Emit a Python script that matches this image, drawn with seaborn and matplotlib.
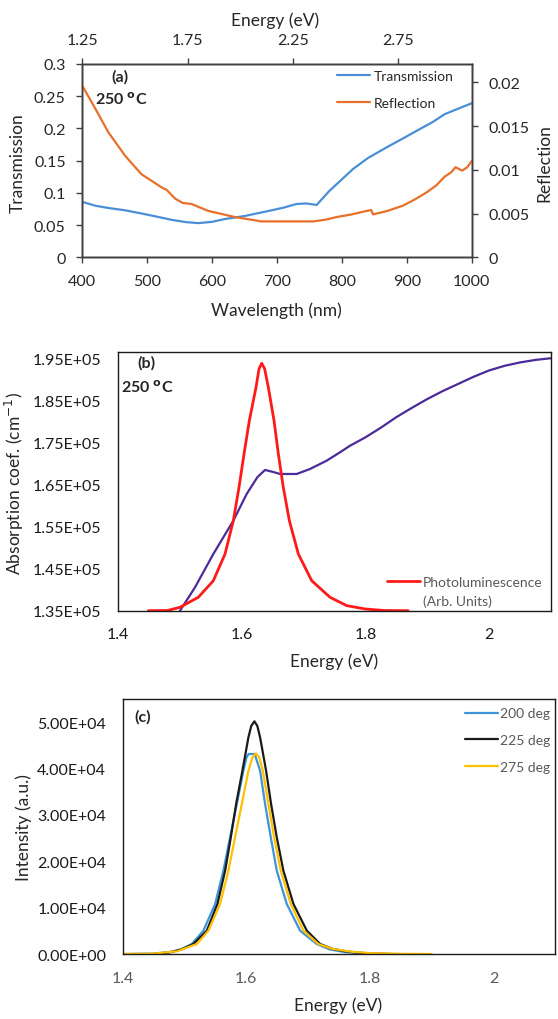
import matplotlib
matplotlib.use("Agg")
import matplotlib.pyplot as plt
import seaborn as sns
import pandas as pd
from matplotlib.ticker import FuncFormatter

# ---------------- Panel (a) data ----------------
wl_T = [400, 420, 440, 465, 491, 515, 538, 560, 579, 600, 620, 650, 689, 710,
        730, 745, 761, 781, 800, 817, 840, 869, 895, 920, 940, 958, 980, 1000]
trans = [0.086, 0.080, 0.0765, 0.073, 0.068, 0.063, 0.058, 0.0545, 0.053, 0.055,
         0.0594, 0.064, 0.0723, 0.077, 0.0827, 0.0835, 0.0812, 0.1034, 0.121,
         0.137, 0.154, 0.1707, 0.185, 0.199, 0.210, 0.222, 0.231, 0.239]
wl_R = [400, 410, 420, 440, 466, 491, 522, 530, 543, 555, 568, 594, 635, 676,
        700, 730, 756, 775, 792, 815, 838, 845, 848, 870, 894, 912, 930, 945,
        958, 968, 975, 985, 993, 1000]
refl = [0.0196, 0.0183, 0.0170, 0.0143, 0.0116, 0.0095, 0.0080, 0.0077, 0.0067,
        0.0062, 0.0061, 0.0053, 0.0046, 0.0041, 0.0041, 0.0041, 0.0041, 0.0043,
        0.0046, 0.0049, 0.0053, 0.0054, 0.0049, 0.0053, 0.0059, 0.0066, 0.0074,
        0.0082, 0.0092, 0.0097, 0.0103, 0.0099, 0.0103, 0.0110]
energy_top_ticks = [1.25, 1.75, 2.25, 2.75]

# ---------------- Panel (b) data ----------------
E_abs = [1.5002, 1.5245, 1.5541, 1.5864, 1.608, 1.6252, 1.6376, 1.65, 1.6619,
         1.6889, 1.7104, 1.7374, 1.7589, 1.775, 1.80, 1.825, 1.85, 1.875, 1.90,
         1.925, 1.95, 1.975, 2.00, 2.025, 2.05, 2.075, 2.10]
absorption = [1.35e5, 1.4056e5, 1.4848e5, 1.5639e5, 1.6274e5, 1.6671e5, 1.6844e5,
              1.680e5, 1.6749e5, 1.6749e5, 1.6868e5, 1.7066e5, 1.7265e5, 1.742e5,
              1.762e5, 1.785e5, 1.81e5, 1.832e5, 1.853e5, 1.872e5, 1.889e5,
              1.906e5, 1.921e5, 1.932e5, 1.94e5, 1.946e5, 1.95e5]
E_pl = [1.449, 1.48, 1.5002, 1.5298, 1.5541, 1.573, 1.5864, 1.5956, 1.6037,
        1.6123, 1.6231, 1.628, 1.6323, 1.637, 1.643, 1.6522, 1.6592, 1.6672,
        1.677, 1.6915, 1.7131, 1.7427, 1.7697, 1.80, 1.83, 1.869]
pl = [1.35e5, 1.3505e5, 1.3581e5, 1.3819e5, 1.4213e5, 1.4848e5, 1.5639e5,
      1.6433e5, 1.7225e5, 1.8016e5, 1.881e5, 1.925e5, 1.938e5, 1.925e5, 1.881e5,
      1.8016e5, 1.7225e5, 1.6433e5, 1.5639e5, 1.4848e5, 1.4213e5, 1.3819e5,
      1.362e5, 1.354e5, 1.3505e5, 1.35e5]

# ---------------- Panel (c) data ----------------
E_200 = [1.40, 1.45, 1.48, 1.496, 1.5117, 1.5305, 1.5495, 1.5629, 1.5737,
         1.5846, 1.5953, 1.600, 1.6035, 1.6135, 1.6223, 1.6304, 1.6396, 1.6493,
         1.6655, 1.6871, 1.714, 1.735, 1.76, 1.79, 1.82]
I_200 = [0, 100, 500, 1100, 2160, 5030, 10790, 17970, 25170, 32360, 39540, 42300,
         43140, 43140, 39540, 32360, 25170, 17970, 10790, 5030, 2160, 1000, 400,
         100, 0]
E_225 = [1.45, 1.4766, 1.495, 1.5143, 1.536, 1.5532, 1.5657, 1.5749, 1.5835,
         1.5937, 1.6034, 1.608, 1.6131, 1.6178, 1.6223, 1.632, 1.6401, 1.6493,
         1.66, 1.6763, 1.698, 1.7195, 1.74, 1.76, 1.78, 1.80, 1.835]
I_225 = [0, 360, 1000, 2160, 5030, 10790, 17970, 25170, 32360, 39540, 46740,
         49200, 50190, 49200, 46740, 39540, 32360, 25170, 17970, 10790, 5030,
         2160, 1100, 600, 300, 150, 0]
E_275 = [1.40, 1.45, 1.488, 1.5198, 1.5386, 1.5575, 1.571, 1.5818, 1.5927,
         1.6034, 1.610, 1.6153, 1.621, 1.6267, 1.6358, 1.645, 1.6558, 1.672,
         1.6925, 1.7167, 1.74, 1.77, 1.80, 1.85, 1.90]
I_275 = [0, 100, 600, 2160, 5030, 10790, 17970, 25170, 32360, 39540, 42400,
         43280, 42400, 39540, 32360, 25170, 17970, 10790, 5030, 2160, 1100, 500,
         200, 50, 0]

# ---------------- Style ----------------
sns.set_style("white")
plt.rcParams['font.family'] = ['Lato', 'DejaVu Sans']
plt.rcParams['mathtext.fontset'] = 'dejavusans'

TXT = '#262626'
GRAY = '#595959'
TICK_FS = 11.5
LAB_FS = 12.5

fig = plt.figure(figsize=(5.58, 10.2), dpi=100)

def style_axis(ax, spine_color='#404040', label_color=TXT):
    for s in ax.spines.values():
        s.set_visible(True)
        s.set_color(spine_color)
        s.set_linewidth(1.0)
    ax.tick_params(direction='out', length=4, width=1, pad=8,
                   labelsize=TICK_FS, colors=spine_color, labelcolor=label_color)

# ---------------- Panel (a) ----------------
axA = fig.add_axes([0.1475, 0.7468, 0.698, 0.1895])
axR = axA.twinx()
axT = axA.twiny()

sns.lineplot(x=wl_T, y=trans, ax=axA, color='#4A8FD6', linewidth=1.6,
             label='Transmission', legend=False)
sns.lineplot(x=wl_R, y=refl, ax=axR, color='#E8702A', linewidth=1.6,
             label='Reflection', legend=False)

axA.set_xlim(400, 1000)
axA.set_ylim(0, 0.3)
axR.set_ylim(0, 0.0221)
axT.set_xlim(1.25, 3.1)
axA.set_xticks([400, 500, 600, 700, 800, 900, 1000])
axA.set_yticks([0, 0.05, 0.1, 0.15, 0.2, 0.25, 0.3])
axA.yaxis.set_major_formatter(FuncFormatter(lambda v, p: f"{v:g}"))
axR.set_yticks([0, 0.005, 0.01, 0.015, 0.02])
axR.yaxis.set_major_formatter(FuncFormatter(lambda v, p: f"{v:g}"))
axT.set_xticks(energy_top_ticks)
axT.xaxis.set_major_formatter(FuncFormatter(lambda v, p: f"{v:.2f}"))
for a in (axA, axR, axT):
    style_axis(a)

axA.set_xlabel('Wavelength (nm)', fontsize=LAB_FS, color=TXT)
axA.set_ylabel('Transmission', fontsize=LAB_FS, color=TXT)
axR.set_ylabel('Reflection', fontsize=LAB_FS, color=TXT)
axT.set_xlabel('Energy (eV)', fontsize=LAB_FS, color=TXT)
axA.xaxis.set_label_coords(0.497, -0.226)
axA.yaxis.set_label_coords(-0.1445, 0.493)
axR.yaxis.set_label_coords(1.166, 0.49)
axT.xaxis.set_label_coords(0.4955, 1.2)

axA.text(0.097, 0.938, '(a)', transform=axA.transAxes, fontsize=11.5,
         fontweight='bold', ha='center', va='center', color=TXT)
axA.text(0.033, 0.819, r'250 $^{\mathbf{o}}$C', transform=axA.transAxes,
         fontsize=11.5, fontweight='bold', ha='left', va='center', color=TXT)

hA = axA.get_lines() + axR.get_lines()
leg = axT.legend(hA, ['Transmission', 'Reflection'], loc='upper left',
                 bbox_to_anchor=(336.7 / 558, 1 - 71 / 1020),
                 bbox_transform=fig.transFigure, frameon=False, fontsize=10,
                 handlelength=2.4, handletextpad=0.3, labelspacing=1.1,
                 borderpad=0, borderaxespad=0)
for t in leg.get_texts():
    t.set_color(TXT)

# ---------------- Panel (b) ----------------
axB = fig.add_axes([0.2115, 0.4003, 0.776, 0.254])
sns.lineplot(x=E_abs, y=absorption, ax=axB, color='#4B2A9A', linewidth=1.6,
             legend=False)
sns.lineplot(x=E_pl, y=pl, ax=axB, color='#FF1A1A', linewidth=2.0,
             legend=False)
axB.set_xlim(1.4, 2.1)
axB.set_ylim(1.35e5, 1.9657e5)
axB.set_xticks([1.4, 1.6, 1.8, 2.0])
axB.xaxis.set_major_formatter(FuncFormatter(lambda v, p: f"{v:g}"))
axB.set_yticks([1.35e5, 1.45e5, 1.55e5, 1.65e5, 1.75e5, 1.85e5, 1.95e5])
axB.yaxis.set_major_formatter(FuncFormatter(lambda v, p: f"{v:.2E}"))
style_axis(axB, spine_color='#1a1a1a', label_color='#1a1a1a')
axB.set_xlabel('Energy (eV)', fontsize=LAB_FS, color=TXT)
axB.set_ylabel(r'Absorption coef. (cm$^{-1}$)', fontsize=LAB_FS, color=TXT)
axB.xaxis.set_label_coords(0.5, -0.162)
axB.yaxis.set_label_coords(-0.2125, 0.496)
axB.text(0.066, 0.96, '(b)', transform=axB.transAxes, fontsize=11.5,
         fontweight='bold', ha='center', va='center', color=TXT)
axB.text(0.008, 0.864, r'250 $^{\mathbf{o}}$C', transform=axB.transAxes,
         fontsize=11.5, fontweight='bold', ha='left', va='center', color=TXT)
legB = axB.legend([axB.get_lines()[1]], ['Photoluminescence'], loc='upper left',
                  bbox_to_anchor=(386.7 / 558, 1 - 577 / 1020),
                  bbox_transform=fig.transFigure, frameon=False, fontsize=10,
                  handlelength=2.4, handletextpad=0.2, borderpad=0,
                  borderaxespad=0)
for t in legB.get_texts():
    t.set_color(GRAY)
fig.text(422.7 / 558, 1 - 601.7 / 1020, '(Arb. Units)', fontsize=10,
         color=GRAY, ha='left', va='center')

# ---------------- Panel (c) ----------------
axC = fig.add_axes([0.22, 0.0637, 0.775, 0.25])
df_c = pd.concat([
    pd.DataFrame({'E': E_200, 'I': I_200, 'T': '200 deg'}),
    pd.DataFrame({'E': E_225, 'I': I_225, 'T': '225 deg'}),
    pd.DataFrame({'E': E_275, 'I': I_275, 'T': '275 deg'}),
])
sns.lineplot(data=df_c, x='E', y='I', hue='T', ax=axC, linewidth=1.6,
             palette={'200 deg': '#3D94DA', '225 deg': '#1a1a1a',
                      '275 deg': '#FFC000'}, sort=False, estimator=None)
axC.set_xlim(1.4, 2.1)
axC.set_ylim(0, 5.5e4)
axC.set_xticks([1.4, 1.6, 1.8, 2.0])
axC.xaxis.set_major_formatter(FuncFormatter(lambda v, p: f"{v:g}"))
axC.set_yticks([0, 1e4, 2e4, 3e4, 4e4, 5e4])
axC.yaxis.set_major_formatter(FuncFormatter(lambda v, p: f"{v:.2E}"))
style_axis(axC, spine_color='#1a1a1a', label_color='#1a1a1a')
axC.tick_params(axis='x', labelcolor=GRAY)
axC.set_xlabel('Energy (eV)', fontsize=LAB_FS, color=TXT)
axC.set_ylabel('Intensity (a.u.)', fontsize=LAB_FS, color=TXT)
axC.xaxis.set_label_coords(0.498, -0.165)
axC.yaxis.set_label_coords(-0.209, 0.498)
axC.text(0.047, 0.934, '(c)', transform=axC.transAxes, fontsize=11.5,
         fontweight='bold', ha='center', va='center', color=TXT)
hC, lC = axC.get_legend_handles_labels()
legC = axC.legend(hC, lC, loc='upper left',
                  bbox_to_anchor=(465 / 558, 1 - 708.5 / 1020),
                  bbox_transform=fig.transFigure, frameon=False, fontsize=10,
                  handlelength=2.4, handletextpad=0.1, labelspacing=1.05,
                  borderpad=0, borderaxespad=0)
for t in legC.get_texts():
    t.set_color(GRAY)

fig.savefig('out.png', dpi=100)
